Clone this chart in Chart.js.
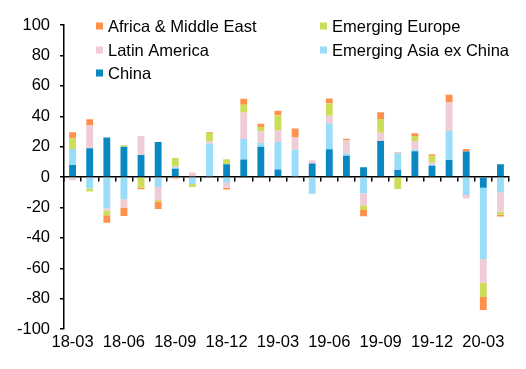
<!DOCTYPE html>
<html>
<head>
<meta charset="utf-8">
<script src="https://cdn.jsdelivr.net/npm/chart.js@4.4.1/dist/chart.umd.min.js"></script>
<style>
  html, body { margin: 0; padding: 0; background: #fff; }
  #wrap { width: 526px; height: 369px; }
</style>
</head>
<body>
<div id="wrap"><canvas id="c" width="526" height="369"></canvas></div>
<script>
// months, 18-03 .. 20-04
const months = ['18-03', '18-04', '18-05', '18-06', '18-07', '18-08', '18-09', '18-10', '18-11',
  '18-12', '19-01', '19-02', '19-03', '19-04', '19-05', '19-06', '19-07', '19-08', '19-09',
  '19-10', '19-11', '19-12', '20-01', '20-02', '20-03', '20-04'];

// contributions by region
const china = [8, 19, 26, 20, 14.5, 23, 5.5, 0, 0, 8.5, 11.5, 20, 5, 0, 9, 18.3, 14, 6.5, 23.8, 4.6, 17, 7.4, 11.3, 16.8, -7, 8.5];
const asiaExChina = [10.5, -7.5, -20.5, -14.5, 0, -6.5, 1, -4.5, 22, -3.5, 13.5, 2.5, 18, 18, -11, 17, 1.5, -10.7, 0, 11, 1, 0.8, 19, -11.8, -46.8, -10];
const latinAmerica = [-2, 15, -1.5, -5.5, 12.5, -8.5, 0.5, 3, 1.5, -3.5, 17.5, 7.5, 7.7, 8, 2, 5, 8.7, -8, 5.4, 0.5, 5.5, 1.8, 18.7, -2.2, -15.7, -12.7];
const emergingEurope = [7, -2, -3, 1, -7, -1, 5.5, -2, 5.5, 3.3, 5, 3, 10, 0, 0, 8.3, 0, -3, 9, -7.8, 3.5, 4, 0, 0, -9.4, -2.1];
const africaMiddleEast = [4, 4, -5, -5.5, -1, -5, -1, 0, 0.5, -1.2, 4, 2, 3, 6, 0, 3, 1, -4, 4.4, 0.4, 1.8, 1, 5.2, 1.7, -8.5, -1.1];

const yTicks = [-100, -80, -60, -40, -20, 0, 20, 40, 60, 80, 100];

const FONT = 'Liberation Sans, Arial, sans-serif';

// legend drawn in two columns inside the plot, like the original
const legendPlugin = {
  id: 'gridLegend',
  afterDraw(chart) {
    const ctx = chart.ctx;
    const ds = chart.data.datasets;
    const slots = [
      { i: 4, x: 96, y: 26 },
      { i: 3, x: 320, y: 26 },
      { i: 2, x: 96, y: 50 },
      { i: 1, x: 320, y: 50 },
      { i: 0, x: 96, y: 73 }
    ];
    ctx.save();
    ctx.font = '16.5px ' + FONT;
    ctx.textBaseline = 'middle';
    ctx.textAlign = 'left';
    slots.forEach(s => {
      ctx.fillStyle = ds[s.i].backgroundColor;
      ctx.fillRect(s.x, s.y - 3.5, 7, 7);
      ctx.fillStyle = '#000';
      ctx.fillText(ds[s.i].label, s.x + 12, s.y + 1.5);
    });
    ctx.restore();
  }
};

new Chart(document.getElementById('c'), {
  type: 'bar',
  data: {
    labels: months,
    datasets: [
      { label: 'China', data: china, backgroundColor: '#0A88C2' },
      { label: 'Emerging Asia ex China', data: asiaExChina, backgroundColor: '#99DDF9' },
      { label: 'Latin America', data: latinAmerica, backgroundColor: '#F0CCD7' },
      { label: 'Emerging Europe', data: emergingEurope, backgroundColor: '#CCDD5A' },
      { label: 'Africa & Middle East', data: africaMiddleEast, backgroundColor: '#FF914D' }
    ]
  },
  options: {
    responsive: false,
    animation: false,
    layout: { padding: { top: 25, right: 17, left: 7, bottom: 14 } },
    datasets: { bar: { categoryPercentage: 1, barPercentage: 0.4, borderWidth: 0 } },
    plugins: { legend: { display: false }, tooltip: { enabled: false } },
    scales: {
      x: {
        stacked: true,
        position: { y: 0 },
        offset: true,
        grid: { offset: true, drawOnChartArea: false, drawTicks: true, tickLength: 4, color: '#000', lineWidth: 1.5 },
        border: { display: true, color: '#000', width: 1.5 },
        ticks: { display: false }
      },
      x2: {
        position: 'bottom',
        labels: months,
        offset: true,
        grid: { display: false, drawTicks: false },
        border: { display: false },
        ticks: {
          autoSkip: false,
          maxRotation: 0,
          color: '#000',
          padding: 3,
          font: { family: FONT, size: 16.5 },
          callback: (v, i) => (i % 3 === 0 ? months[i] : '')
        }
      },
      y: {
        stacked: true,
        min: -100,
        max: 100,
        afterBuildTicks: axis => { axis.ticks = yTicks.map(v => ({ value: v })); },
        grid: { drawOnChartArea: false, drawTicks: true, tickLength: 4, color: '#000', lineWidth: 1.5 },
        border: { display: true, color: '#000', width: 1.5 },
        ticks: { color: '#000', padding: 10, font: { family: FONT, size: 16.5 } }
      }
    }
  },
  plugins: [legendPlugin]
});
</script>
</body>
</html>
